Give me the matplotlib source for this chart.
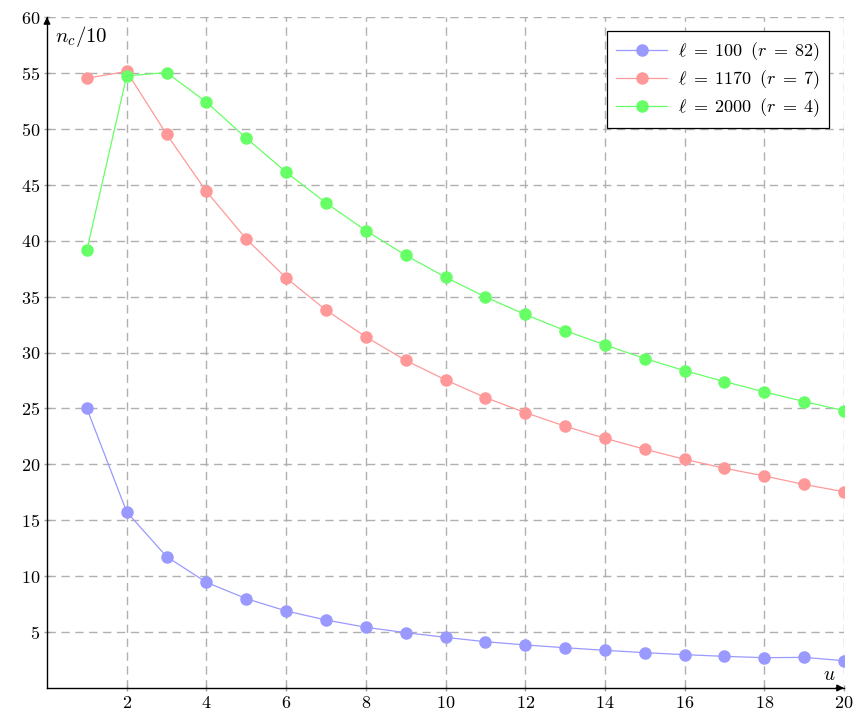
import matplotlib
matplotlib.use("Agg")
import matplotlib.pyplot as plt

plt.rcParams["font.family"] = "serif"
plt.rcParams["font.serif"] = ["cmr10", "DejaVu Serif"]
plt.rcParams["mathtext.fontset"] = "cm"
plt.rcParams["axes.formatter.use_mathtext"] = True

u = list(range(1, 21))

nc_l100 = [25.0, 15.75, 11.75, 9.45, 7.99, 6.89, 6.08, 5.43, 4.95, 4.53,
           4.14, 3.85, 3.60, 3.37, 3.16, 2.98, 2.83, 2.71, 2.74, 2.44]
nc_l1170 = [54.53, 55.13, 49.52, 44.40, 40.16, 36.67, 33.80, 31.40, 29.30, 27.55,
            25.97, 24.63, 23.41, 22.33, 21.35, 20.45, 19.65, 18.96, 18.20, 17.55]
nc_l2000 = [39.15, 54.74, 55.03, 52.39, 49.17, 46.13, 43.38, 40.90, 38.70, 36.73,
            34.97, 33.40, 31.96, 30.68, 29.46, 28.38, 27.40, 26.48, 25.61, 24.80]

labels = [r"$\ell\;=\;100\;\;(r\;=\;82)$",
          r"$\ell\;=\;1170\;\;(r\;=\;7)$",
          r"$\ell\;=\;2000\;\;(r\;=\;4)$"]
colors = ["#9999ff", "#ff9999", "#66ff66"]

x_ticks = [2, 4, 6, 8, 10, 12, 14, 16, 18, 20]
y_ticks = [5, 10, 15, 20, 25, 30, 35, 40, 45, 50, 55, 60]

fig = plt.figure(figsize=(8.58, 7.19), dpi=100)
ax = fig.add_axes([47 / 858, 1 - 688 / 719, (844 - 47) / 858, (688 - 17) / 719])

for series, lab, col in zip([nc_l100, nc_l1170, nc_l2000], labels, colors):
    ax.plot(u, series, color=col, lw=0.9, marker="o", markersize=8,
            markeredgecolor=col, markerfacecolor=col, label=lab, zorder=3)

ax.set_xlim(0, 20)
ax.set_ylim(0, 60)
ax.set_xticks(x_ticks)
ax.set_yticks(y_ticks)
ax.tick_params(axis="both", labelsize=13, length=4, width=1.0, direction="inout",
               color="#a0a0a0", labelcolor="black")
ax.tick_params(axis="x", pad=3)
ax.tick_params(axis="y", pad=3)

ax.grid(True, color="#b0b0b0", linestyle=(0, (6, 4)), linewidth=1.0, zorder=0)
ax.set_axisbelow(True)

for side in ["top", "right"]:
    ax.spines[side].set_visible(False)
for side in ["left", "bottom"]:
    ax.spines[side].set_linewidth(1.0)
    ax.spines[side].set_zorder(2.5)

# arrow heads on the axes
ax.annotate("", xy=(1.0, 0), xycoords="axes fraction", xytext=(0.99, 0),
            arrowprops=dict(arrowstyle="-|>", color="black", lw=1.0,
                            mutation_scale=10, shrinkA=0, shrinkB=0))
ax.annotate("", xy=(0, 1.0), xycoords="axes fraction", xytext=(0, 0.99),
            arrowprops=dict(arrowstyle="-|>", color="black", lw=1.0,
                            mutation_scale=10, shrinkA=0, shrinkB=0))

ax.text(0.010, 0.99, r"$n_c/10$", transform=ax.transAxes, fontsize=15,
        ha="left", va="top")
ax.text(0.982, 0.006, r"$u$", transform=ax.transAxes, fontsize=14,
        ha="center", va="bottom")

leg = ax.legend(loc="upper right", bbox_to_anchor=(0.981, 0.979), fontsize=13,
                frameon=True, fancybox=False, edgecolor="black", framealpha=1,
                handlelength=2.8, handletextpad=0.6, borderpad=0.5, labelspacing=0.3,
                borderaxespad=0)
leg.get_frame().set_linewidth(0.9)

fig.savefig("out.png", dpi=100)
